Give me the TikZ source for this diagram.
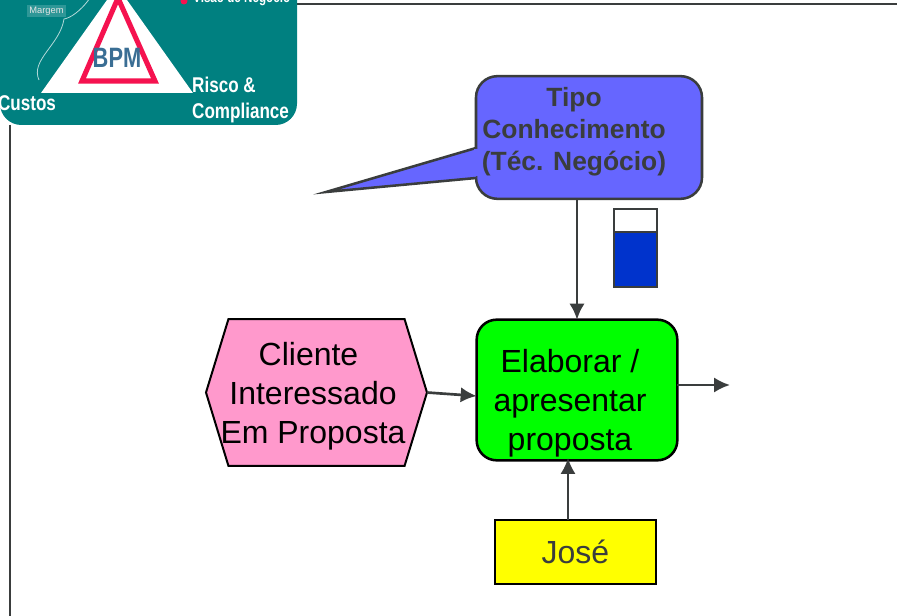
\documentclass[tikz,border=0pt]{standalone}
\usepackage{fontspec}
\setmainfont{Liberation Sans}
\usepackage{tikz}
\usetikzlibrary{arrows.meta,shapes.symbols}
\definecolor{ink}{HTML}{3A3D3D}
\definecolor{teal}{HTML}{008080}
\definecolor{rose}{HTML}{F5124F}
\definecolor{steel}{HTML}{3A6E94}
\definecolor{tipoblue}{HTML}{6666FF}
\definecolor{gauge}{HTML}{0033CC}
\definecolor{pinkev}{HTML}{FF99CC}
\definecolor{greenfn}{HTML}{00FF00}
\definecolor{yellowrole}{HTML}{FFFF00}
\tikzset{
  flow/.style={draw=ink, line width=2pt, -{Latex[length=12pt,width=11.5pt]}},
  frame/.style={draw=ink, line width=2.2pt},
  lab/.style={text=black, align=center, inner sep=0pt, font=\fontsize{24}{29.25}\selectfont},
  labb/.style={text=ink, align=center, inner sep=0pt, font=\bfseries\fontsize{19.8}{24}\selectfont},
  logo/.style={text=white, inner sep=0pt, align=left, transform shape, xscale=0.8, font=\bfseries\fontsize{16}{21}\selectfont},
}
\begin{document}
\begin{tikzpicture}[x=0.75pt,y=-0.75pt]
  \useasboundingbox (0,0) rectangle (897,616);
  \fill[white] (0,0) rectangle (897,616);
  % page frame
  \draw[frame] (297,4) -- (897,4);
  \draw[frame] (10,125) -- (10,616);
  % logo
  \begin{scope}
    \clip (0,0) rectangle (897,616);
    \fill[teal, rounded corners=16pt] (0,-30) -- (0,125) -- (297,125) -- (297,-30) -- cycle;
    \draw[white!70!teal, line width=0.6pt] (90,-2) .. controls (80,12) and (70,18) .. (64,19) .. controls (60,45) and (30,60) .. (39,80);
    \fill[white] (41,93) -- (107,0) -- (127,0) -- (193,93) -- cycle;
    \draw[rose, line width=3.8pt, miter limit=10] (82,81) -- (118,-2) -- (155,81) -- cycle;
    \node[inner sep=0pt, text=steel, transform shape, xscale=0.78, font=\bfseries\fontsize{21}{24}\selectfont] (bpm) at (117,58) {BPM};
    \node[logo] (custos) at (27,103) {Custos};
    \node[logo, anchor=west] (risco) at (192,85) {Risco \&};
    \node[logo, anchor=west] (compliance) at (192,113) {Compliance};
    \node[inner sep=1.5pt, fill=white!18!teal, text=white!90!black, font=\fontsize{7}{8}\selectfont] (margem) at (46.5,11) {Margem};
    \fill[rose] (184,1) circle (3.5);
    \node[logo, anchor=west, font=\bfseries\fontsize{11.5}{13}\selectfont, xscale=0.95] (visao) at (193,-1) {Visão de Negócio};
  \end{scope}
  % callout
  \node[draw=ink, fill=tipoblue, line width=1.9pt, rounded corners=16pt, minimum width=169.5pt, minimum height=92pt, inner sep=0pt, outer sep=0pt] (tipo) at (589,137.5) {};
  \draw[draw=ink, fill=tipoblue, line width=1.9pt, line join=miter, miter limit=20] (476,148) -- (326,192) -- (476,178);
  \fill[tipoblue] (474,149.5) rectangle (479,176.5);
  \node[labb] (tipotxt) at (574,132) {Tipo\\Conhecimento\\(Téc. Negócio)};
  % gauge
  \draw[ink, line width=1.9pt, fill=gauge] (614,209) rectangle (657,287);
  \draw[ink, line width=1.9pt, fill=white] (614,209) rectangle (657,232);
  % process
  \node[draw=black, fill=greenfn, line width=1.9pt, rounded corners=15pt, minimum width=150.5pt, minimum height=105.5pt, inner sep=0pt, outer sep=0pt] (elaborar) at (577,390) {};
  \node[lab] (elaborartxt) at (570,403) {Elaborar /\\apresentar\\proposta};
  % event
  \node[draw=black, fill=pinkev, line width=1.5pt, signal, signal to=west and east, signal pointer angle=146, minimum width=165.75pt, minimum height=110pt, inner sep=0pt, outer sep=0pt] (cliente) at (316.5,392.5) {};
  \node[lab] (clientetxt) at (313,396.5) {Cliente\hspace*{6.75pt}\\Interessado\\Em Proposta};
  \draw[black, line width=2.2pt] (311,319) -- (322,319);
  \draw[black, line width=2.2pt] (311,466) -- (322,466);
  % role
  \node[draw=black, fill=yellowrole, line width=1.5pt, minimum width=120.5pt, minimum height=48pt, inner sep=0pt, outer sep=0pt, text=ink, font=\fontsize{24}{29}\selectfont] (jose) at (575.5,552) {José};
  % connectors
  \coordinate (fim) at (730,385);
  \draw[flow] (tipo.south -| elaborar.north) -- (elaborar.north);
  \draw[flow] (cliente.east) -- (elaborar.west |- 0,396);
  \draw[flow] (jose.north -| 568,0) -- (568,458);
  \draw[flow] (elaborar.east |- fim) -- (fim);
\end{tikzpicture}
\end{document}
